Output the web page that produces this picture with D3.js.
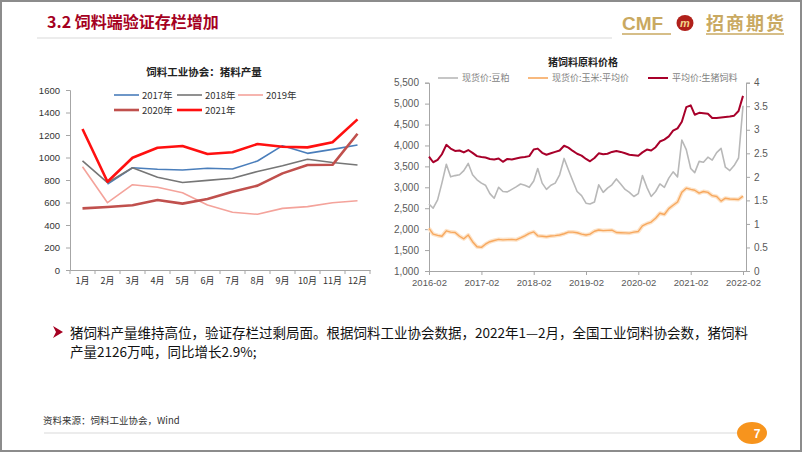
<!DOCTYPE html>
<html><head><meta charset="utf-8">
<script src="https://cdn.jsdelivr.net/npm/d3@7/dist/d3.min.js"></script>
<style>
body{margin:0;background:#fff;}
svg{display:block;font-family:"Liberation Sans",Arial,"Noto Sans CJK SC",sans-serif;}
.cjk{font-family:"Noto Sans CJK SC",sans-serif;}
</style></head>
<body><svg id="c" width="802" height="452"></svg>
<script>
// ---------- Left chart data: 饲料工业协会：猪料产量 (万吨) ----------
const months = ["1月","2月","3月","4月","5月","6月","7月","8月","9月","10月","11月","12月"];
const yearNames = ["2017年","2018年","2019年","2020年","2021年"];
const v2017 = [null,764,909,895,889,904,898,969,1105,1037,1072,1111];
const v2018 = [970,776,909,824,778,797,815,876,926,984,955,933];
const v2019 = [918,598,758,735,687,578,513,495,548,563,598,616];
const v2020 = [548,560,575,622,590,631,696,750,859,933,935,1211];
const v2021 = [1253,785,998,1087,1102,1031,1046,1120,1096,1090,1135,1339];
const leftTicks = [0,200,400,600,800,1000,1200,1400,1600];

// ---------- Right chart data: 猪饲料原料价格 (monthly) ----------
const priceDates = ["2016-02","2016-03","2016-04","2016-05","2016-06","2016-07","2016-08","2016-09","2016-10","2016-11","2016-12",
"2017-01","2017-02","2017-03","2017-04","2017-05","2017-06","2017-07","2017-08","2017-09","2017-10","2017-11","2017-12",
"2018-01","2018-02","2018-03","2018-04","2018-05","2018-06","2018-07","2018-08","2018-09","2018-10","2018-11","2018-12",
"2019-01","2019-02","2019-03","2019-04","2019-05","2019-06","2019-07","2019-08","2019-09","2019-10","2019-11","2019-12",
"2020-01","2020-02","2020-03","2020-04","2020-05","2020-06","2020-07","2020-08","2020-09","2020-10","2020-11","2020-12",
"2021-01","2021-02","2021-03","2021-04","2021-05","2021-06","2021-07","2021-08","2021-09","2021-10","2021-11","2021-12",
"2022-01","2022-02"];
const soymeal = [2600,2500,2700,3100,3550,3250,3280,3300,3400,3570,3300,
3180,3100,3050,2850,2740,3000,2900,2890,2950,3010,3080,3050,
3000,3150,3450,3100,2950,3050,3100,3300,3690,3420,3150,2900,
2800,2620,2600,2650,3060,2880,2980,3060,3200,3080,2950,2880,
2780,2850,3280,3000,2780,2900,3080,3000,3220,3370,3250,4130,
3900,3450,3350,3620,3600,3720,3650,3830,3930,3480,3400,3520,
3700,4950];
const corn = [2020,1880,1850,1830,1960,1930,1920,1830,1770,1860,1700,
1580,1565,1640,1700,1730,1755,1745,1750,1755,1745,1790,1840,
1900,1935,1840,1830,1820,1835,1845,1860,1890,1930,1930,1915,
1880,1860,1880,1950,1980,1965,1970,1975,1920,1915,1910,1905,
1930,1945,2080,2130,2170,2260,2380,2350,2490,2570,2650,2880,
2980,2950,2930,2860,2900,2880,2800,2780,2670,2740,2720,2715,
2710,2790];
const hogFeed = [2.43,2.31,2.36,2.48,2.68,2.60,2.55,2.56,2.52,2.57,2.51,
2.44,2.42,2.41,2.38,2.37,2.39,2.32,2.38,2.37,2.39,2.41,2.42,
2.44,2.58,2.60,2.51,2.47,2.50,2.53,2.56,2.66,2.62,2.55,2.49,
2.45,2.38,2.33,2.40,2.50,2.48,2.49,2.53,2.55,2.53,2.50,2.47,
2.46,2.45,2.52,2.58,2.56,2.63,2.75,2.79,2.86,2.98,3.03,3.17,
3.48,3.52,3.32,3.36,3.35,3.34,3.25,3.25,3.26,3.27,3.28,3.30,
3.40,3.72];
const priceSeries = ["现货价:豆粕","现货价:玉米:平均价","平均价:生猪饲料"];
const priceLeftTicks = [1000,1500,2000,2500,3000,3500,4000,4500,5000,5500];
const priceRightTicks = [0,0.5,1,1.5,2,2.5,3,3.5,4];
const priceXTicks = ["2016-02","2017-02","2018-02","2019-02","2020-02","2021-02","2022-02"];

// ---------- Page ----------
const svg = d3.select("#c");
svg.append("rect").attr("x",1).attr("y",1).attr("width",800).attr("height",450)
  .attr("fill","#fff").attr("stroke","#8c8c8c").attr("stroke-width",2);

svg.append("text").attr("class","cjk").attr("x",47).attr("y",28)
  .attr("fill","#a50021").attr("font-size",16).attr("font-weight","bold")
  .text("3.2 饲料端验证存栏增加");
svg.append("line").attr("x1",37).attr("x2",612).attr("y1",38).attr("y2",38)
  .attr("stroke","#d9d9d9").attr("stroke-width",1);

// logo
const gold = "#c9a961";
svg.append("text").attr("x",622).attr("y",30).attr("fill",gold).attr("font-size",19)
  .attr("font-weight","bold").attr("font-family","Liberation Sans, Arial").text("CMF");
svg.append("line").attr("x1",622).attr("x2",671).attr("y1",34).attr("y2",34).attr("stroke",gold).attr("stroke-width",1.5);
svg.append("ellipse").attr("cx",685).attr("cy",23).attr("rx",8.5).attr("ry",8).attr("fill","#b0201a");
svg.append("text").attr("x",685).attr("y",27).attr("text-anchor","middle").attr("fill","#f4d58a")
  .attr("font-size",11).attr("font-style","italic").attr("font-weight","bold").text("m");
svg.append("text").attr("class","cjk").attr("x",706).attr("y",30).attr("fill",gold).attr("font-size",18)
  .attr("font-weight","bold").attr("textLength",78).text("招商期货");
svg.append("line").attr("x1",706).attr("x2",784).attr("y1",34).attr("y2",34).attr("stroke",gold).attr("stroke-width",1.5);

// ---------- Left chart ----------
const L = {x0:70, x1:370, y0:270, y1:90};
const lx = d3.scaleBand().domain(months).range([L.x0,L.x1]);
const ly = d3.scaleLinear().domain([0,1600]).range([L.y0,L.y1]);
const gl = svg.append("g");
gl.append("text").attr("class","cjk").attr("x",204).attr("y",76).attr("text-anchor","middle")
  .attr("font-size",10.5).attr("font-weight","bold").attr("fill","#222").text("饲料工业协会：猪料产量");

const yAx = gl.append("g").attr("transform",`translate(${L.x0},0)`)
  .call(d3.axisLeft(ly).tickValues(leftTicks).tickSize(4).tickPadding(6).tickFormat(d3.format("d")));
yAx.select(".domain").attr("stroke","#a6a6a6");
yAx.selectAll("line").attr("stroke","#a6a6a6");
yAx.selectAll("text").attr("font-size",9.5).attr("fill","#333").attr("font-family","Liberation Sans, Arial");

const xAx = gl.append("g").attr("transform",`translate(0,${L.y0})`)
  .call(d3.axisBottom(lx).tickSize(0).tickPadding(8));
xAx.select(".domain").attr("stroke","#a6a6a6");
xAx.selectAll("text").attr("class","cjk").attr("font-size",9).attr("fill","#333");
gl.selectAll(".bt").data(months.concat(["end"])).enter().append("line")
  .attr("x1",(d,i)=>L.x0+i*lx.step()).attr("x2",(d,i)=>L.x0+i*lx.step())
  .attr("y1",L.y0).attr("y2",L.y0+4).attr("stroke","#a6a6a6");

const leftSeries = [
  {name:yearNames[0], v:v2017, c:"#4a7ebb", w:1.6},
  {name:yearNames[1], v:v2018, c:"#767676", w:1.6},
  {name:yearNames[2], v:v2019, c:"#f4a39b", w:1.6},
  {name:yearNames[3], v:v2020, c:"#c0504d", w:2.6},
  {name:yearNames[4], v:v2021, c:"#ff1010", w:2.6}
];
const lline = d3.line().defined(d=>d.v!=null).x(d=>lx(d.m)+lx.bandwidth()/2).y(d=>ly(d.v));
leftSeries.forEach(s=>{
  gl.append("path").datum(months.map((m,i)=>({m:m,v:s.v[i]})))
    .attr("d",lline).attr("fill","none").attr("stroke",s.c).attr("stroke-width",s.w)
    .attr("stroke-linejoin","round");
});
// legend
const legPos = [[114,95],[177,95],[238,95],[114,110],[177,110]];
leftSeries.forEach((s,i)=>{
  const [x,y] = legPos[i];
  gl.append("line").attr("x1",x).attr("x2",x+25).attr("y1",y).attr("y2",y).attr("stroke",s.c).attr("stroke-width",s.w);
  gl.append("text").attr("class","cjk").attr("x",x+28).attr("y",y+3.5).attr("font-size",9.5).attr("fill","#333").text(s.name);
});

// ---------- Right chart ----------
const R = {x0:429, x1:746, y0:271, y1:82.7};
const parse = d3.timeParse("%Y-%m");
const dates = priceDates.map(parse);
const rx = d3.scaleTime().domain([parse("2016-02"), parse("2022-02")]).range([R.x0, 743]);
const ryL = d3.scaleLinear().domain([1000,5500]).range([R.y0,R.y1]);
const ryR = d3.scaleLinear().domain([0,4]).range([R.y0,R.y1]);
const gr = svg.append("g");
gr.append("text").attr("class","cjk").attr("x",583).attr("y",66).attr("text-anchor","middle")
  .attr("font-size",10).attr("font-weight","bold").attr("fill","#222").text("猪饲料原料价格");

const ryAx = gr.append("g").attr("transform",`translate(${R.x0},0)`)
  .call(d3.axisLeft(ryL).tickValues(priceLeftTicks).tickSize(4).tickPadding(6).tickFormat(d3.format(",")));
const rrAx = gr.append("g").attr("transform",`translate(${R.x1},0)`)
  .call(d3.axisRight(ryR).tickValues(priceRightTicks).tickSize(4).tickPadding(4).tickFormat(d=>String(d)));
const rxAx = gr.append("g").attr("transform",`translate(0,${R.y0})`)
  .call(d3.axisBottom(rx).tickValues(priceXTicks.map(parse)).tickSize(4).tickPadding(4).tickFormat(d3.timeFormat("%Y-%m")));
rxAx.select(".domain").attr("d",`M${R.x0},0.5H${R.x1}`);
[ryAx,rrAx,rxAx].forEach(a=>{
  a.select(".domain").attr("stroke","#a6a6a6");
  a.selectAll("line").attr("stroke","#a6a6a6");
  a.selectAll("text").attr("font-size",10).attr("fill","#595959").attr("font-family","Liberation Sans, Arial");
});
rxAx.selectAll("text").attr("font-size",9.5);

const lineL = d3.line().x((d,i)=>rx(dates[i])).y(d=>ryL(d));
const lineR = d3.line().x((d,i)=>rx(dates[i])).y(d=>ryR(d));
gr.append("path").datum(corn).attr("d",lineL).attr("fill","none").attr("stroke","#fde3c8").attr("stroke-width",4).attr("stroke-linejoin","round");
gr.append("path").datum(corn).attr("d",lineL).attr("fill","none").attr("stroke","#f7a85e").attr("stroke-width",1.4).attr("stroke-linejoin","round");
gr.append("path").datum(soymeal).attr("d",lineL).attr("fill","none").attr("stroke","#b8b8b8").attr("stroke-width",1.6).attr("stroke-linejoin","round");
gr.append("path").datum(hogFeed).attr("d",lineR).attr("fill","none").attr("stroke","#a8002a").attr("stroke-width",2).attr("stroke-linejoin","round");

const rLeg = [{x:438,c:"#b8b8b8",w:1.6},{x:528,c:"#f7a85e",w:1.6},{x:648,c:"#a8002a",w:2}];
rLeg.forEach((l,i)=>{
  gr.append("line").attr("x1",l.x).attr("x2",l.x+20).attr("y1",78).attr("y2",78).attr("stroke",l.c).attr("stroke-width",l.w);
  gr.append("text").attr("class","cjk").attr("x",l.x+24).attr("y",81).attr("font-size",9).attr("fill","#7f7f7f").text(priceSeries[i]);
});

// ---------- Bullet text ----------
svg.append("path").attr("d","M53,326 L63,332 L53,338 L56,332 Z").attr("fill","#a50021");
svg.append("text").attr("class","cjk").attr("x",70).attr("y",338).attr("font-size",13.5).attr("fill","#111")
  .text("猪饲料产量维持高位，验证存栏过剩局面。根据饲料工业协会数据，2022年1—2月，全国工业饲料协会数，猪饲料");
svg.append("text").attr("class","cjk").attr("x",70).attr("y",357).attr("font-size",13.5).attr("fill","#111")
  .text("产量2126万吨，同比增长2.9%;");

svg.append("text").attr("class","cjk").attr("x",43).attr("y",424).attr("font-size",9.5).attr("fill","#333")
  .text("资料来源：饲料工业协会，Wind");
svg.append("line").attr("x1",44).attr("x2",740).attr("y1",433).attr("y2",433).attr("stroke","#d9d9d9");
svg.append("ellipse").attr("cx",752).attr("cy",433).attr("rx",15).attr("ry",11).attr("fill","#f7941d");
svg.append("text").attr("x",757).attr("y",438).attr("text-anchor","middle").attr("fill","#fff")
  .attr("font-size",12).attr("font-weight","bold").text("7");
</script></body></html>
